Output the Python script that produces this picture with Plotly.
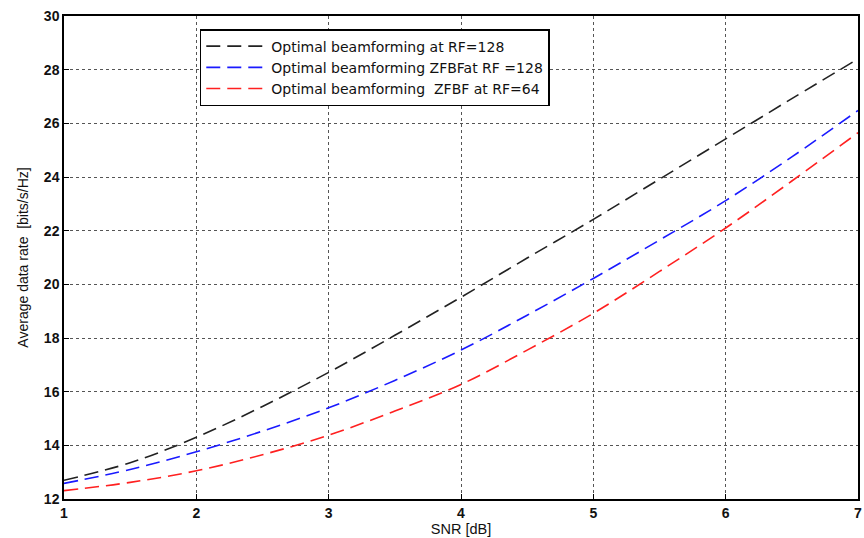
import plotly.graph_objects as go

snr = [1, 1.5, 2, 2.5, 3, 3.5, 4, 4.5, 5, 5.5, 6, 6.5, 7]
rate_opt_rf128 = [12.7, 13.35, 14.3, 15.45, 16.72, 18.1, 19.52, 20.98, 22.42, 23.92, 25.42, 26.92, 28.4]
rate_zfbf_rf128 = [12.58, 13.1, 13.76, 14.53, 15.4, 16.42, 17.55, 18.85, 20.22, 21.65, 23.12, 24.75, 26.48]
rate_zfbf_rf64 = [12.31, 12.62, 13.05, 13.65, 14.38, 15.28, 16.27, 17.55, 18.92, 20.48, 22.1, 23.85, 25.65]

x_ticks = [1, 2, 3, 4, 5, 6, 7]
y_ticks = [12, 14, 16, 18, 20, 22, 24, 26, 28, 30]

names = ["Optimal beamforming at RF=128",
         "Optimal beamforming ZFBFat RF =128",
         "Optimal beamforming  ZFBF at RF=64"]
colors = ["#222222", "#1a1aff", "#ff2020"]
series = [rate_opt_rf128, rate_zfbf_rf128, rate_zfbf_rf64]

fig = go.Figure()
for n, c, s in zip(names, colors, series):
    fig.add_trace(go.Scatter(x=snr, y=s, mode="lines", name=n, line_shape="spline",
                             line=dict(color=c, width=1.6, dash="14px,7px")))

font = "Liberation Sans, Arial, sans-serif"
axis_common = dict(showline=True, linecolor="black", linewidth=1.5, mirror=True,
                   ticks="inside", ticklen=5, tickcolor="black", zeroline=False,
                   automargin=False, ticklabeloverflow="allow",
                   showgrid=True, gridcolor="#555555", griddash="dot", gridwidth=1,
                   tickfont=dict(family=font, size=14, color="#111111"))

fig.update_layout(
    width=864, height=538,
    margin=dict(l=64, r=6, t=16, b=39),
    paper_bgcolor="white", plot_bgcolor="white",
    font=dict(family=font, size=13, color="#111111"),
    xaxis=dict(range=[1, 7], tickvals=x_ticks,
               ticktext=[f"<b>{v}</b>" for v in x_ticks],
               title=dict(text="SNR [dB]", font=dict(size=14.5), standoff=0),
               **axis_common),
    yaxis=dict(range=[12, 30], tickvals=y_ticks,
               ticktext=[f"<b>{v}</b>" for v in y_ticks],
               title=dict(text="Average data rate  [bits/s/Hz]", font=dict(size=14), standoff=12),
               **axis_common),
    legend=dict(x=0.171, y=0.973, xanchor="left", yanchor="top",
                bgcolor="white", bordercolor="black", borderwidth=1.5,
                font=dict(family="DejaVu Sans, sans-serif", size=14, color="#111111"),
                itemwidth=60, tracegroupgap=0),
    showlegend=True,
)

fig.write_html("out.html", config={"displayModeBar": False},
               post_script="document.body.style.margin='0';document.body.style.overflow='hidden';")
